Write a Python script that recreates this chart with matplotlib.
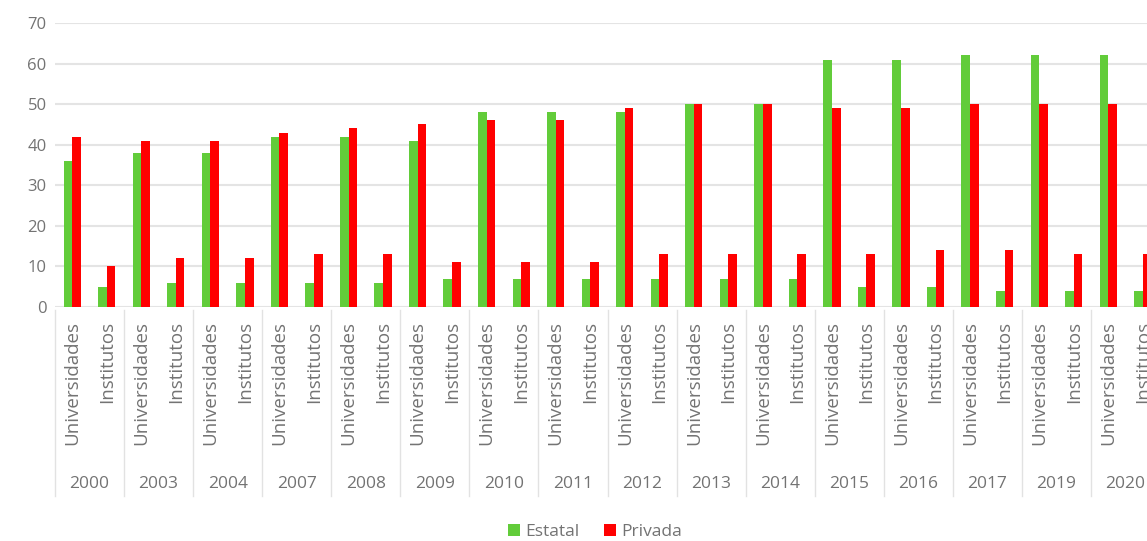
import matplotlib
matplotlib.use("Agg")
import matplotlib.pyplot as plt
import matplotlib.transforms as mtransforms
from matplotlib.patches import Patch

plt.rcParams['font.family'] = ['Open Sans', 'DejaVu Sans']

# Data
years = ['2000', '2003', '2004', '2007', '2008', '2009', '2010', '2011',
         '2012', '2013', '2014', '2015', '2016', '2017', '2019', '2020']
kinds = ['Universidades', 'Institutos']

univ_estatal = [36, 38, 38, 42, 42, 41, 48, 48, 48, 50, 50, 61, 61, 62, 62, 62]
univ_privada = [42, 41, 41, 43, 44, 45, 46, 46, 49, 50, 50, 49, 49, 50, 50, 50]
inst_estatal = [5, 6, 6, 6, 6, 7, 7, 7, 7, 7, 7, 5, 5, 4, 4, 4]
inst_privada = [10, 12, 12, 13, 13, 11, 11, 11, 13, 13, 13, 13, 14, 14, 13, 13]

green = '#62cc3a'
red = '#ff0000'
text_col = '#737373'

# interleave Universidades / Institutos per year
estatal, privada, labels = [], [], []
for i in range(len(years)):
    estatal += [univ_estatal[i], inst_estatal[i]]
    privada += [univ_privada[i], inst_privada[i]]
    labels += kinds
x = list(range(len(labels)))

W, H = 1147, 541
fig = plt.figure(figsize=(W / 100, H / 100), dpi=100)
# plot area runs past the right edge, as in the source image
ax = fig.add_axes([55 / W, 1 - 307 / H, 1105 / W, (307 - 23) / H])

bw = 0.25
ax.bar([i - bw / 2 for i in x], estatal, width=bw, color=green, zorder=3)
ax.bar([i + bw / 2 for i in x], privada, width=bw, color=red, zorder=3)

ax.set_xlim(-0.5, len(labels) - 0.5)
ax.set_ylim(0, 70)
ax.set_yticks(range(0, 71, 10))
ax.yaxis.grid(True, color='#e4e4e4', linewidth=1.5, zorder=0)
ax.set_axisbelow(True)
for s in ax.spines.values():
    s.set_visible(False)

ax.set_xticks(x)
ax.set_xticklabels(labels, rotation=90, fontsize=13.5, color=text_col)
ax.tick_params(axis='x', length=0, pad=10)
ax.tick_params(axis='y', length=0, pad=6, labelsize=12, labelcolor=text_col)

# year labels and group separators
trans = mtransforms.blended_transform_factory(ax.transData, ax.transAxes)
for g, yr in enumerate(years):
    ax.text(2 * g + 0.5, -0.623, yr, transform=trans, ha='center', va='center',
            fontsize=12.5, color=text_col)
for g in range(len(years) + 1):
    ax.plot([2 * g - 0.5, 2 * g - 0.5], [-0.01, -0.665], transform=trans,
            color='#e2e2e2', linewidth=1, clip_on=False)

handles = [Patch(facecolor=green, label='Estatal'),
           Patch(facecolor=red, label='Privada')]
fig.legend(handles=handles, loc='center', bbox_to_anchor=(595 / W, 1 - 532 / H),
           ncol=2, frameon=False, fontsize=12.5, handlelength=0.7,
           handleheight=0.7, handletextpad=0.3, columnspacing=1.4,
           labelcolor=text_col)

fig.savefig('out.png', dpi=100)
